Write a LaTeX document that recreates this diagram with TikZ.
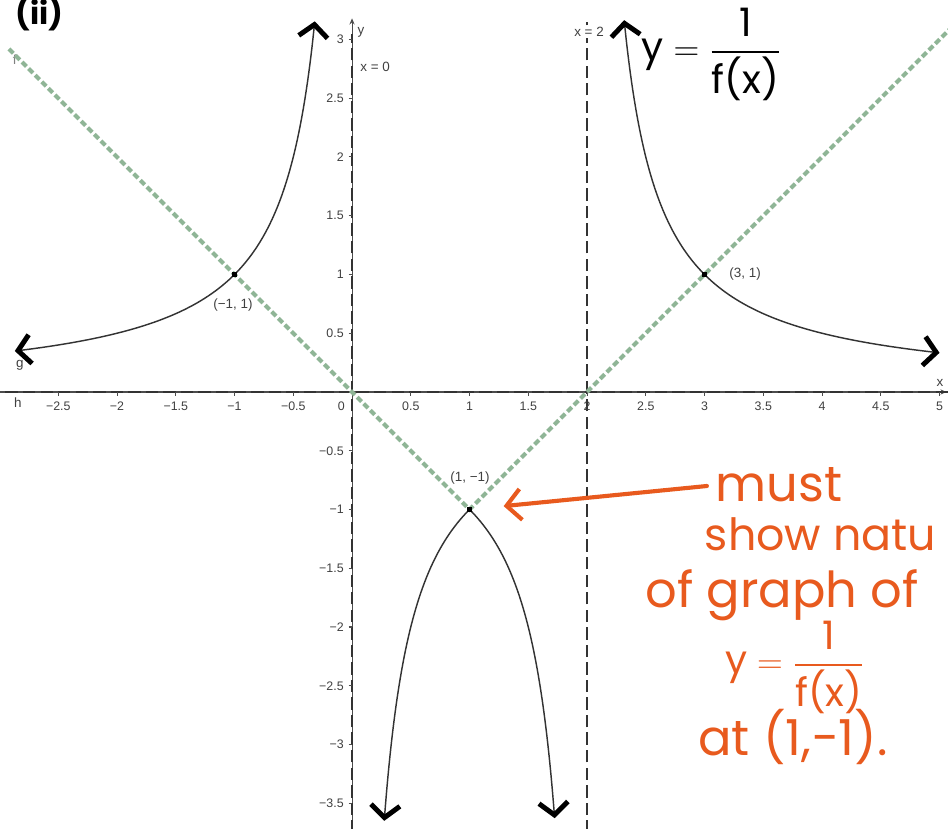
\documentclass[tikz,border=0pt]{standalone}
\usepackage{amsmath}
\usepackage{fontspec}
\setsansfont{Liberation Sans}
\newfontfamily\handfont{Poppins}
\definecolor{inkorange}{HTML}{E85A1E}
\definecolor{guidegreen}{HTML}{8FB596}
\usetikzlibrary{arrows.meta, positioning}

\begin{document}
\begin{tikzpicture}[
  x=2cm, y=2cm,
  every node/.style={font=\sffamily\fontsize{6}{7}\selectfont, text=black!75, inner sep=1pt},
  asym/.style={line width=1pt, black!80, dash pattern=on 6pt off 2.5pt},
  axis/.style={line width=0.5pt, black!70},
  graph/.style={line width=0.7pt, black!80},
  guide/.style={line width=2pt, guidegreen, dash pattern=on 3pt off 1.5pt},
  hand/.tip={Straight Barb[line width=2.4pt, length=6pt, width=14pt, color=black]},
  pt/.style={rectangle, fill=black, inner sep=0pt, minimum size=2.8pt},
  tag/.style={font=\sffamily\fontsize{6.5}{7}\selectfont},
  note/.style={font=\handfont\fontsize{24}{28}\selectfont, text=inkorange, inner sep=0pt},
  scrawl/.style={font=\handfont\fontsize{19}{23}\selectfont, text=black, inner sep=0pt},
  pointer/.style={-{Straight Barb[length=7pt, width=15pt]}, line width=2pt, inkorange, line cap=round}
]
\useasboundingbox (-2.996,-3.719) rectangle (5.072,3.336);

%% ─── Axes and asymptotes ─────────────────────────────────────────────────────
\draw[axis, -{Stealth[length=3pt, width=2.5pt]}] (-2.996,0) -- (5.06,0);
\draw[axis, -{Stealth[length=3pt, width=2.5pt]}] (0,-3.75) -- (0,3.18);
\draw[asym] (-2.95,0) -- (5.07,0);
\draw[asym] (0,-3.75) -- (0,3.05);
\draw[asym] (2,-3.75) -- (2,3.15);

%% ticks
\foreach \v in {-2.5,-2,...,5} \draw[axis] (\v,0) -- (\v,-0.03);
\foreach \v in {-3.5,-3,...,3} \draw[axis] (-0.03,\v) -- (0,\v);

%% ─── Tick labels ─────────────────────────────────────────────────────────────
\foreach \v/\t [count=\i] in {-2.5/−2.5, -2/−2, -1.5/−1.5, -1/−1, -0.5/−0.5,
                              0.5/0.5, 1/1, 1.5/1.5, 2/2, 2.5/2.5, 3/3,
                              3.5/3.5, 4/4, 4.5/4.5, 5/5}
  \node[anchor=north] (xt\i) at (\v,-0.06) {\t};
\node[anchor=north east] (orig) at (-0.04,-0.06) {0};
\foreach \v/\t [count=\i] in {3/3, 2.5/2.5, 2/2, 1.5/1.5, 1/1, 0.5/0.5,
                              -0.5/−0.5, -1/−1, -1.5/−1.5, -2/−2, -2.5/−2.5,
                              -3/−3, -3.5/−3.5}
  \node[anchor=east] (yt\i) at (-0.05,\v) {\t};

%% ─── Axis and line names ─────────────────────────────────────────────────────
\node[tag, anchor=west] (xzero) at (0.05,2.766) {x = 0};
\node[tag, fill=white, inner sep=0.5pt] (xtwo) at (2.017,3.064) {x = 2};
\node[tag] (ylab) at (0.077,3.064) {y};
\node[tag] (xlab) at (5.004,0.077) {x};
\node[tag] (hlab) at (-2.843,-0.094) {h};
\node[tag] (glab) at (-2.826,0.23) {g};
\node[tag, text=black!50] (flab) at (-2.87,2.83) {f};

%% ─── f(x) = |x-1| - 1 (green) ────────────────────────────────────────────────
\draw[guide] (-2.92,2.92) -- (1,-1) -- (5.1,3.1);

%% ─── y = 1/f(x) ──────────────────────────────────────────────────────────────
\draw[graph, hand-hand] plot[domain=-2.87:-0.316, samples=120, smooth]
      (\x, {1/(abs(\x-1)-1)});
\draw[graph, hand-hand] plot[domain=2.316:5.0, samples=120, smooth]
      (\x, {1/(abs(\x-1)-1)});
\draw[graph, hand-hand] plot[domain=0.274:1.726, samples=147]
      (\x, {1/(abs(\x-1)-1)});

%% ─── Marked points ───────────────────────────────────────────────────────────
\node[pt] (pA) at (-1,1) {};
\node[pt] (pC) at (3,1) {};
\node[pt] (pB) at (1,-1) {};
\node[tag] (pAlab) at (-1.013,0.74) {(−1, 1)};
\node[tag] (pClab) at (3.345,1.004) {(3, 1)};
\node[tag] (pBlab) at (1.004,-0.732) {(1, −1)};

%% ─── Handwriting ─────────────────────────────────────────────────────────────
\node[scrawl, font=\handfont\bfseries\fontsize{15}{18}\selectfont] (part) at (-2.66,3.22) {(ii)};
\node[scrawl] (title) at (3.06,2.87) {$\text{y} = \dfrac{\text{1}}{\text{f(x)}}$};

\node[note, anchor=base west] (must)  at (3.09,-0.936) {must};
\node[note, anchor=base west, font=\handfont\fontsize{21.5}{26}\selectfont] (show)
      at (3.0,-1.345) {show natu};
\node[note, anchor=base west] (graph) at (2.494,-1.83) {of graph of};
\node[note, font=\handfont\fontsize{19}{23}\selectfont] (recip)
      at (3.77,-2.345) {$\text{y} = \dfrac{\text{1}}{\text{f(x)}}$};
\node[note, anchor=base west] (at)    at (2.945,-3.09) {at (1,−1).};

\draw[pointer, shorten <=4pt, shorten >=15pt] (must.west) -- (pB);

\end{tikzpicture}
\end{document}
